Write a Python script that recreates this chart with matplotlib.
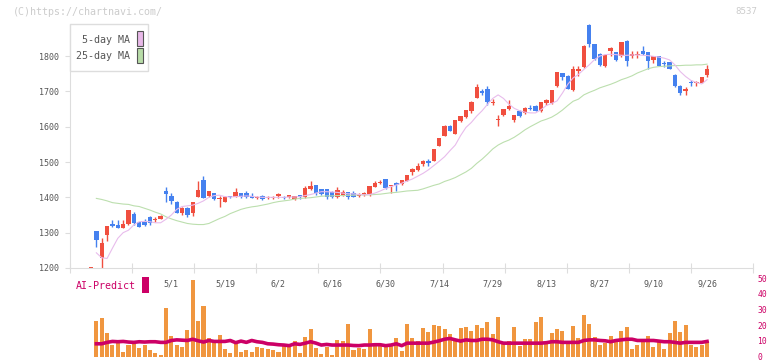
# Stock 8537 - daily candles, 5/25-day MA, volume + AI-Predict panel
import numpy as np
import matplotlib
matplotlib.use("Agg")
import matplotlib.pyplot as plt
from matplotlib.patches import Rectangle

# ---------- data ----------
OPENS = [1200, 1305, 1229, 1293, 1325, 1322, 1314, 1325, 1353, 1329, 1334, 1344, 1336, 1339, 1419, 1405,
         1388, 1357, 1370, 1357, 1402, 1449, 1405, 1412, 1395, 1388, 1404, 1402, 1412,
         1412, 1404, 1399, 1404, 1399, 1399, 1404, 1401, 1400, 1396, 1407, 1400, 1424, 1435, 1424, 1424,
         1416, 1400, 1407, 1414, 1412, 1404, 1407, 1409, 1430, 1442, 1451, 1432, 1442,
         1437, 1447, 1472, 1478, 1495, 1504, 1504, 1546, 1574, 1602, 1580, 1616, 1626, 1643, 1682,
         1700, 1707, 1667, 1620, 1632, 1651, 1618, 1645, 1638, 1652, 1659, 1645, 1667, 1667,
         1714, 1751, 1744, 1704, 1759, 1768, 1888, 1834, 1805, 1772, 1813, 1810, 1799, 1843, 1799,
         1802, 1815, 1810, 1790, 1799, 1780, 1782, 1747, 1716, 1700, 1726, 1724, 1725, 1747]
HIGHS = [1202, 1305, 1285, 1320, 1336, 1335, 1336, 1365, 1358, 1330, 1340, 1347, 1345, 1349, 1430, 1413,
         1390, 1373, 1372, 1388, 1446, 1459, 1418, 1413, 1404, 1403, 1405, 1427, 1413,
         1418, 1412, 1403, 1406, 1404, 1404, 1411, 1403, 1408, 1404, 1408, 1432, 1446, 1436, 1425, 1425,
         1418, 1429, 1422, 1415, 1418, 1412, 1416, 1433, 1447, 1450, 1452, 1436, 1444,
         1450, 1464, 1482, 1497, 1506, 1508, 1538, 1568, 1604, 1604, 1620, 1630, 1647, 1672, 1720,
         1706, 1715, 1677, 1633, 1651, 1676, 1634, 1646, 1655, 1661, 1660, 1670, 1677, 1705,
         1756, 1752, 1745, 1772, 1772, 1830, 1890, 1835, 1808, 1805, 1826, 1812, 1840, 1844, 1815,
         1815, 1827, 1811, 1801, 1800, 1787, 1783, 1748, 1719, 1711, 1731, 1729, 1742, 1775]
LOWS = [1200, 1260, 1200, 1277, 1316, 1313, 1313, 1322, 1322, 1316, 1318, 1322, 1330, 1338, 1388, 1382,
        1356, 1349, 1345, 1348, 1400, 1398, 1400, 1393, 1372, 1386, 1397, 1400, 1397,
        1398, 1397, 1395, 1393, 1395, 1394, 1399, 1396, 1399, 1393, 1396, 1399, 1422, 1407, 1407, 1396,
        1398, 1399, 1404, 1395, 1400, 1400, 1405, 1404, 1428, 1438, 1425, 1413, 1418,
        1436, 1446, 1463, 1475, 1489, 1490, 1503, 1545, 1573, 1588, 1579, 1612, 1625, 1640, 1681,
        1690, 1660, 1660, 1602, 1630, 1648, 1612, 1628, 1635, 1646, 1644, 1641, 1660, 1665,
        1712, 1731, 1706, 1700, 1744, 1766, 1825, 1790, 1773, 1769, 1799, 1787, 1797, 1773, 1795,
        1795, 1803, 1763, 1780, 1771, 1770, 1762, 1713, 1691, 1691, 1716, 1716, 1724, 1740]
CLOSES = [1202, 1278, 1272, 1319, 1320, 1314, 1325, 1364, 1326, 1317, 1322, 1328, 1338, 1347, 1410, 1391,
          1357, 1371, 1351, 1386, 1421, 1399, 1417, 1395, 1397, 1402, 1400, 1415, 1400,
          1400, 1398, 1401, 1394, 1401, 1401, 1410, 1399, 1407, 1403, 1400, 1427, 1433, 1412, 1409, 1400,
          1400, 1421, 1414, 1402, 1402, 1406, 1413, 1432, 1442, 1444, 1427, 1434, 1435,
          1449, 1463, 1480, 1489, 1502, 1498, 1537, 1567, 1602, 1589, 1619, 1629, 1646, 1671, 1711,
          1696, 1671, 1671, 1622, 1650, 1659, 1632, 1629, 1652, 1649, 1645, 1669, 1676, 1704,
          1754, 1742, 1707, 1764, 1763, 1829, 1834, 1792, 1775, 1803, 1824, 1789, 1839, 1787, 1806,
          1805, 1806, 1787, 1799, 1773, 1776, 1763, 1714, 1695, 1707, 1724, 1727, 1741, 1764]

MA5 = [np.nan, 1243, 1229, 1227, 1256, 1284, 1300, 1307, 1322, 1331, 1332, 1331, 1328, 1328, 1338, 1350,
       1366, 1374, 1376, 1378, 1383, 1390, 1400, 1405, 1406, 1402, 1401, 1402, 1403, 1404,
       1403, 1401, 1400, 1400, 1400, 1400, 1400, 1401, 1401, 1402, 1405, 1408, 1412, 1416, 1416,
       1415, 1414, 1412, 1410, 1410, 1408, 1407, 1408, 1412, 1418, 1425, 1430, 1435, 1440, 1446,
       1452, 1460, 1468, 1478, 1490, 1502, 1515, 1532, 1548, 1575, 1598, 1612, 1630, 1645, 1663,
       1680, 1690, 1680, 1664, 1652, 1645, 1641, 1639, 1639, 1648, 1660, 1666, 1673, 1695, 1720,
       1738, 1748, 1762, 1775, 1790, 1800, 1804, 1805, 1804, 1802, 1802, 1803, 1803, 1802, 1801,
       1799, 1797, 1794, 1789, 1775, 1756, 1742, 1731, 1725, 1721, 1733]
MA25 = [np.nan, 1397, 1394, 1390, 1385, 1383, 1381, 1380, 1376, 1374, 1369, 1364, 1358, 1353, 1345, 1339,
        1334, 1330, 1326, 1324, 1323, 1323, 1326, 1333, 1340, 1346, 1354, 1360, 1366, 1370,
        1373, 1375, 1378, 1381, 1385, 1388, 1390, 1392, 1395, 1397, 1398, 1399, 1401, 1403, 1404,
        1404, 1405, 1405, 1406, 1406, 1407, 1407, 1407, 1408, 1409, 1411, 1413, 1414, 1416, 1418,
        1419, 1420, 1424, 1429, 1434, 1438, 1445, 1450, 1456, 1464, 1472, 1482, 1496, 1508, 1522,
        1537, 1548, 1556, 1562, 1570, 1580, 1591, 1600, 1608, 1616, 1621, 1627, 1636, 1647, 1660,
        1672, 1678, 1690, 1697, 1703, 1710, 1715, 1720, 1726, 1733, 1738, 1744, 1752, 1758, 1764,
        1768, 1770, 1771, 1772, 1773, 1773, 1774, 1774, 1775, 1775, 1777]

VOLUME = [0, 22.5, 24.4, 15.2, 7.5, 9.6, 3.1, 7.5, 8.1, 5.6, 7.5, 4.4, 2.5, 1.2, 30.6, 13.1,
          7.5, 6.3, 16.9, 48.8, 22.5, 31.9, 11.9, 10, 13.8, 5, 2.5, 8.8, 3.1, 4.4,
          2.6, 6.3, 5.6, 5, 4.4, 3.1, 8.1, 6.3, 10, 2.5, 12.5, 17.5, 5.6, 1.9, 6.3,
          1.2, 10.6, 10, 20.6, 4.4, 5.6, 5, 17.5, 8.8, 8.1, 6.3, 8.1, 11.9, 3.8, 20.6,
          11.9, 10, 18.1, 15.6, 20, 19.4, 17.5, 14.4, 11.3, 18.1, 18.8, 16.3, 20, 18.1, 21.9,
          14.4, 25, 8.1, 10, 18.8, 6.9, 11.3, 11.3, 21.9, 25, 9.4, 15, 17.5, 16.3, 8.1,
          19.4, 11.9, 26.3, 20.6, 12.5, 7.5, 8.8, 13.1, 11.3, 16.3, 18.8, 5, 7.5, 9.4, 13.1,
          6.3, 9.4, 5, 15, 22.5, 15.6, 20, 7.5, 6.3, 7.5, 10]
PREDICT = [np.nan, 8.1, 8.1, 9.0, 9.6, 9.4, 9.6, 9.2, 9.0, 9.4, 9.2, 9.4, 9.4, 9.0, 9.0, 10.2,
           10.6, 10.4, 10.2, 11.0, 10.0, 9.2, 10.2, 9.6, 9.6, 9.6, 10.2, 8.8, 9.8, 9.0,
           10.2, 9.4, 9.0, 8.1, 7.9, 7.5, 7.3, 6.9, 8.1, 7.7, 8.5, 9.4, 8.5, 7.3, 7.7,
           7.3, 7.3, 7.3, 7.3, 7.0, 6.9, 7.3, 7.3, 7.5, 7.5, 6.9, 7.3, 8.1, 6.9, 8.5,
           8.5, 8.5, 8.5, 8.5, 9.2, 10.0, 11.0, 11.5, 10.6, 9.8, 10.6, 10.2, 10.2, 11.0, 11.0,
           10.6, 9.4, 8.5, 8.5, 8.5, 8.5, 8.5, 8.5, 8.5, 8.5, 8.8, 9.4, 9.4, 9.0, 9.0,
           9.0, 9.0, 10.2, 10.6, 10.6, 10.2, 10.0, 9.4, 10.2, 10.6, 11.0, 11.0, 10.2, 10.2, 10.2,
           10.2, 9.8, 9.4, 9.4, 9.0, 8.5, 9.0, 9.0, 9.0, 9.0, 9.6]

TICK_POS = [15, 25, 35, 45, 55, 65, 75, 85, 95, 105, 115]
TICK_LABELS = ["5/1", "5/19", "6/2", "6/16", "6/30", "7/14", "7/29", "8/13", "8/27", "9/10", "9/26"]

# ---------- style ----------
W, H = 772, 361
RED, BLUE = "#f04f3f", "#4581ef"
PINK, GREEN = "#e8bcec", "#bcdfae"
ORANGE, CRIMSON = "#f0963f", "#cc0066"
GRID, TXT = "#dddddd", "#555555"
MONO = "DejaVu Sans Mono"

def fx(px):
    return px / W

def fy(py):
    return 1 - py / H

# candle index i sits at pixel 91 + 5.357*i
XLIM = ((70 - 91) / 5.357, (753 - 91) / 5.357)

fig = plt.figure(figsize=(W / 100, H / 100), dpi=100)

# ---------- price panel ----------
ax = fig.add_axes([fx(70), fy(268), fx(753) - fx(70), fy(24) - fy(268)])
x = np.arange(len(OPENS))
o, h, l, c = map(np.array, (OPENS, HIGHS, LOWS, CLOSES))
cols = [RED if ci >= oi else BLUE for oi, ci in zip(o, c)]
ax.vlines(x, l, h, colors=cols, linewidth=1, zorder=2)
ax.bar(x, np.maximum(np.abs(c - o), 2.5), bottom=np.minimum(o, c), width=0.82,
       color=cols, linewidth=0, zorder=2)
ax.plot(x, MA25, color=GREEN, linewidth=0.8, zorder=3)
ax.plot(x, MA5, color=PINK, linewidth=0.8, zorder=3)

ax.set_xlim(*XLIM)
ax.set_ylim(1200, 1200 + 244 / 0.3533)
for s in ("top", "right"):
    ax.spines[s].set_visible(False)
for s in ("left", "bottom"):
    ax.spines[s].set_color(GRID)
ax.set_yticks(range(1200, 1801, 100))
ax.tick_params(axis="y", length=3.6, color=GRID, labelsize=6, labelcolor=TXT, pad=4)
for t in ax.get_yticklabels():
    t.set_family(MONO)
ax.set_xticks(np.linspace(XLIM[0], XLIM[1], 12))
ax.tick_params(axis="x", which="major", direction="inout", length=6.5, color=GRID, labelbottom=False)
ax.set_xticks(TICK_POS, minor=True)
ax.set_xticklabels(TICK_LABELS, minor=True, family=MONO)
ax.tick_params(axis="x", which="minor", length=0, labelsize=6, labelcolor=TXT, pad=8)

# ---------- volume / AI-Predict panel ----------
vax = fig.add_axes([fx(70), fy(356.5), fx(753) - fx(70), fy(278) - fy(356.5)])
vax.patch.set_visible(False)
vax.bar(x, VOLUME, width=0.75, color=ORANGE, linewidth=0)
vax.plot(x, PREDICT, color=CRIMSON, linewidth=2.6)
vax.set_xlim(*XLIM)
vax.set_ylim(0, 50)
for s in vax.spines.values():
    s.set_visible(False)
vax.set_xticks([])
vax.yaxis.tick_right()
vax.set_yticks(range(0, 51, 10))
vax.tick_params(axis="y", length=0, pad=3, labelsize=5.8, labelcolor=CRIMSON)
for t in vax.get_yticklabels():
    t.set_family(MONO)
    t.set_verticalalignment("center_baseline")

# ---------- legend, captions ----------
fig.add_artist(Rectangle((fx(70), fy(71)), fx(148) - fx(70), fy(24) - fy(71),
                         transform=fig.transFigure, facecolor="white", edgecolor=GRID, linewidth=1))
fig.text(fx(130), fy(40), "5-day MA", ha="right", va="center", fontsize=7.2, color=TXT, family=MONO)
fig.text(fx(130), fy(56), "25-day MA", ha="right", va="center", fontsize=7.2, color=TXT, family=MONO)
fig.add_artist(Rectangle((fx(136.5), fy(46)), 6 / W, 15 / H, transform=fig.transFigure,
                         facecolor="#e8b8e8", edgecolor=TXT, linewidth=0.8))
fig.add_artist(Rectangle((fx(136.5), fy(63)), 6 / W, 15 / H, transform=fig.transFigure,
                         facecolor="#b8dca8", edgecolor=TXT, linewidth=0.8))

fig.text(fx(76), fy(286), "AI-Predict", ha="left", va="center", fontsize=7.2, color=CRIMSON, family=MONO)
fig.add_artist(Rectangle((fx(142), fy(293)), 6.5 / W, 16 / H, transform=fig.transFigure,
                         facecolor=CRIMSON, edgecolor="none"))

fig.text(fx(13), fy(12), "(C)https://chartnavi.com/", ha="left", va="center",
         fontsize=7.2, color="#cccccc", family=MONO)
fig.text(fx(757), fy(12), "8537", ha="right", va="center", fontsize=6.6, color="#cccccc", family=MONO)

fig.savefig("out.png", dpi=100)
